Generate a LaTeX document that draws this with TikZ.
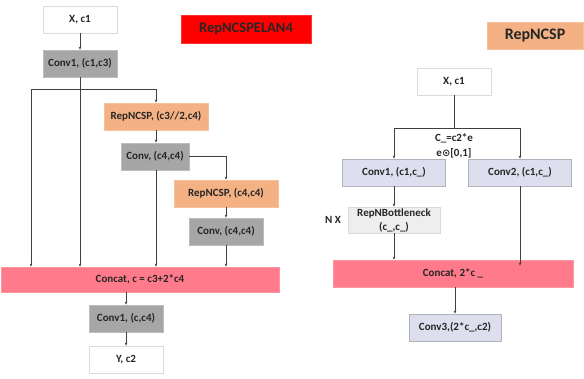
\documentclass[tikz,border=0pt]{standalone}
\usepackage{fontspec}
\setmainfont{Carlito}
\newfontfamily\symf{DejaVu Sans}
\usetikzlibrary{arrows.meta,calc}
\definecolor{gbox}{HTML}{A6A6A6}
\definecolor{obox}{HTML}{F4B183}
\definecolor{pbox}{HTML}{FF7A8A}
\definecolor{lbox}{HTML}{DEDFEE}
\definecolor{ebox}{HTML}{EEEEEE}
\definecolor{rbox}{HTML}{FF0000}
\begin{document}
\begin{tikzpicture}[x=1pt,y=-1pt,
  font=\bfseries\fontsize{11}{12}\selectfont,
  base/.style={minimum height=27pt, inner sep=0pt, align=center, line width=0.8pt, text=black!85},
  whitebox/.style={base, fill=white, draw=black!14},
  graybox/.style={base, fill=gbox, draw=gbox!75!white},
  orangebox/.style={base, fill=obox, draw=obox!80!white},
  pinkbox/.style={base, fill=pbox, draw=pbox!80!white},
  lavbox/.style={base, fill=lbox, draw=lbox!80!black},
  ltbox/.style={base, fill=ebox, draw=black!15},
  redbox/.style={base, fill=rbox, draw=rbox!80!white},
  conn/.style={draw=black!75, line width=0.6pt},
  arr/.style={conn, -{Stealth[length=3pt,width=2.6pt]}}]
\fill[white] (0,0) rectangle (584,378);
\useasboundingbox (0,0) rectangle (584,378);
% left diagram
\node[whitebox, minimum width=74pt] (x1) at (80,19.5) {X, c1};
\node[redbox, minimum width=130pt, minimum height=28pt, font=\bfseries\fontsize{14.5}{16}\selectfont] (t1) at (246,29) {RepNCSPELAN4};
\node[graybox, minimum width=74pt] (cv1) at (80,63.5) {Conv1, (c1,c3)};
\node[orangebox, minimum width=104pt] (rn1) at (156,116.5) {RepNCSP, (c3//2,c4)};
\node[graybox, minimum width=68pt] (cv2) at (155,156.5) {Conv, (c4,c4)};
\node[orangebox, minimum width=104pt] (rn2) at (226,193.5) {RepNCSP, (c4,c4)};
\node[graybox, minimum width=74pt] (cv3) at (226,231.5) {Conv, (c4,c4)};
\node[pinkbox, minimum width=278pt, minimum height=25pt] (cat1) at (140,279.5) {Concat, c = c3+2*c4};
\node[graybox, minimum width=74pt] (cv4) at (126,318.5) {Conv1, (c,c4)};
\node[whitebox, minimum width=74pt] (y1) at (126,359.5) {Y, c2};
\coordinate (bl) at (31,89);
\coordinate (br) at (156,89);
\draw[arr] (x1) -- (cv1);
\draw[arr] (cv1.south) -- (cv1.south |- cat1.north);
\draw[arr] (cv1.south |- bl) -- (bl) -- (bl |- cat1.north);
\draw[arr] (cv1.south |- br) -- (br) -- (rn1.north);
\draw[arr] (rn1.south) -- (rn1.south |- cv2.north);
\draw[arr] (rn1.south |- cv2.south) -- (rn1.south |- cat1.north);
\draw[arr] (cv2.east) -| (rn2.north);
\draw[arr] (rn2) -- (cv3);
\draw[arr] (cv3) -- (cv3 |- cat1.north);
\draw[arr] (cat1.south -| cv4) -- (cv4.north);
\draw[arr] (cv4) -- (y1);
% right diagram
\node[orangebox, minimum width=96pt, font=\bfseries\fontsize{16}{18}\selectfont] (t2) at (535,35.5) {RepNCSP};
\node[whitebox, minimum width=74pt] (x2) at (454,81.5) {X, c1};
\node[lavbox, minimum width=103pt] (ca) at (394,172.5) {Conv1, (c1,c\_)};
\node[lavbox, minimum width=103pt] (cb) at (520,172.5) {Conv2, (c1,c\_)};
\node[ltbox, minimum width=92pt, minimum height=26pt, font=\bfseries\fontsize{11}{14}\selectfont] (bn) at (394,220) {RepNBottleneck\\(c\_,c\_)};
\node[text=black!85] (nx) at (333,220) {N X};
\node[pinkbox, minimum width=240pt] (cat2) at (453,273.5) {Concat, 2*c \_};
\node[lavbox, minimum width=92pt] (c3) at (455,327.5) {Conv3,(2*c\_,c2)};
\coordinate (sr) at (454,128);
\draw[conn] (x2) -- (sr);
\draw[arr] (sr) -| (ca.north);
\draw[arr] (sr) -| (cb.north);
\node[align=center, text=black!85, font=\bfseries\fontsize{11}{15}\selectfont] (eq) at (454,145.5) {C\_=c2*e\\e{\symf\fontsize{10}{15}\selectfont ⊙}[0,1]};
\draw[arr] (ca) -- (bn);
\draw[arr] (bn) -- (bn |- cat2.north);
\draw[arr] (cb.south) -- ($(cb.south |- cat2.north)+(0,6)$);
\draw[arr] (cat2.south -| c3) -- (c3.north);
\end{tikzpicture}
\end{document}
